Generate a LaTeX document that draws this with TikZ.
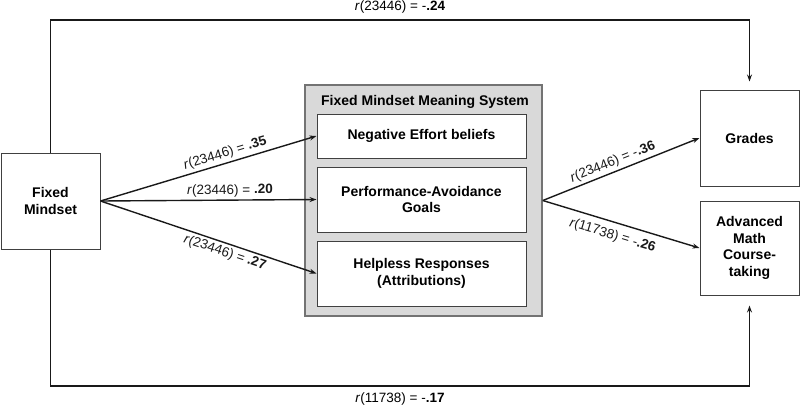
\documentclass[tikz,border=0pt]{standalone}
\usepackage{fontspec}
\setmainfont{Liberation Sans}
\usetikzlibrary{arrows.meta, positioning}
\newcommand{\sz}{\fontsize{13.5}{16.5}\selectfont}
\newcommand{\corr}[3]{\textit{r}(#1) = #2\textbf{#3}}
\tikzstyle{box}=[rectangle, draw=black!75, fill=white, line width=1pt, font=\fontsize{14}{16.5}\selectfont\bfseries, align=center, inner sep=0pt]
\tikzstyle{system}=[rectangle, draw=black!55, fill=black!15, line width=1.5pt, inner sep=0pt]
\tikzstyle{link}=[-{Stealth[length=7pt,width=5pt]}, line width=1.4pt, black!90]
\tikzstyle{coef}=[font=\sz, inner sep=2.5pt, sloped]

\begin{document}
\begin{tikzpicture}[x=1pt, y=-1pt]
      \useasboundingbox (0,0) rectangle (800,408);
      % outcome and predictor boxes
      \node[box, minimum width=99pt, minimum height=96pt] (fixed) at (50.5,201) {Fixed\\Mindset};
      \node[box, minimum width=99pt, minimum height=96pt] (grades) at (749.5,138) {Grades};
      \node[box, minimum width=99pt, minimum height=94pt] (math) [below=14pt of grades] {Advanced\\Math\\Course-\\taking};
      % meaning system
      \node[system, minimum width=237pt, minimum height=231pt] (system) at (423.5,200.5) {};
      \node[font=\fontsize{14}{16.5}\selectfont\bfseries] (title) at (425,102) {Fixed Mindset Meaning System};
      \node[box, minimum width=209pt, minimum height=44pt] (effort) at (421.5,136) {Negative Effort beliefs};
      \node[box, minimum width=209pt, minimum height=65pt] (goals) [below=8pt of effort] {Performance-Avoidance\\Goals};
      \node[box, minimum width=209pt, minimum height=65pt] (helpless) [below=8pt of goals] {Helpless Responses\\(Attributions)};
      % direct paths
      \coordinate (top) at (400,20);
      \coordinate (bottom) at (400,386);
      \draw[link, shorten >=8pt] (fixed.north) |- (top) -| (grades.north);
      \draw[link, shorten >=10pt] (fixed.south) |- (bottom) -| (math.south);
      \node[font=\sz, above=3pt of top] (toplabel) {\corr{23446}{-}{.24}};
      \node[font=\sz, below=3pt of bottom] (bottomlabel) {\corr{11738}{-}{.17}};
      % paths through the meaning system
      \draw[link] (fixed.east) -- node[coef, above, pos=0.59] {\corr{23446}{}{.35}} (effort.west);
      \draw[link] (fixed.east) -- node[coef, above, pos=0.6] {\corr{23446}{}{.20}} (goals.west);
      \draw[link] (fixed.east) -- node[coef, below, pos=0.59] {\corr{23446}{}{.27}} (helpless.west);
      \draw[link] (system.east) -- node[coef, above, pos=0.47] {\corr{23446}{-}{.36}} (grades.west);
      \draw[link] (system.east) -- node[coef, below=4pt, pos=0.47] {\corr{11738}{-}{.26}} (math.west);
\end{tikzpicture}
\end{document}
